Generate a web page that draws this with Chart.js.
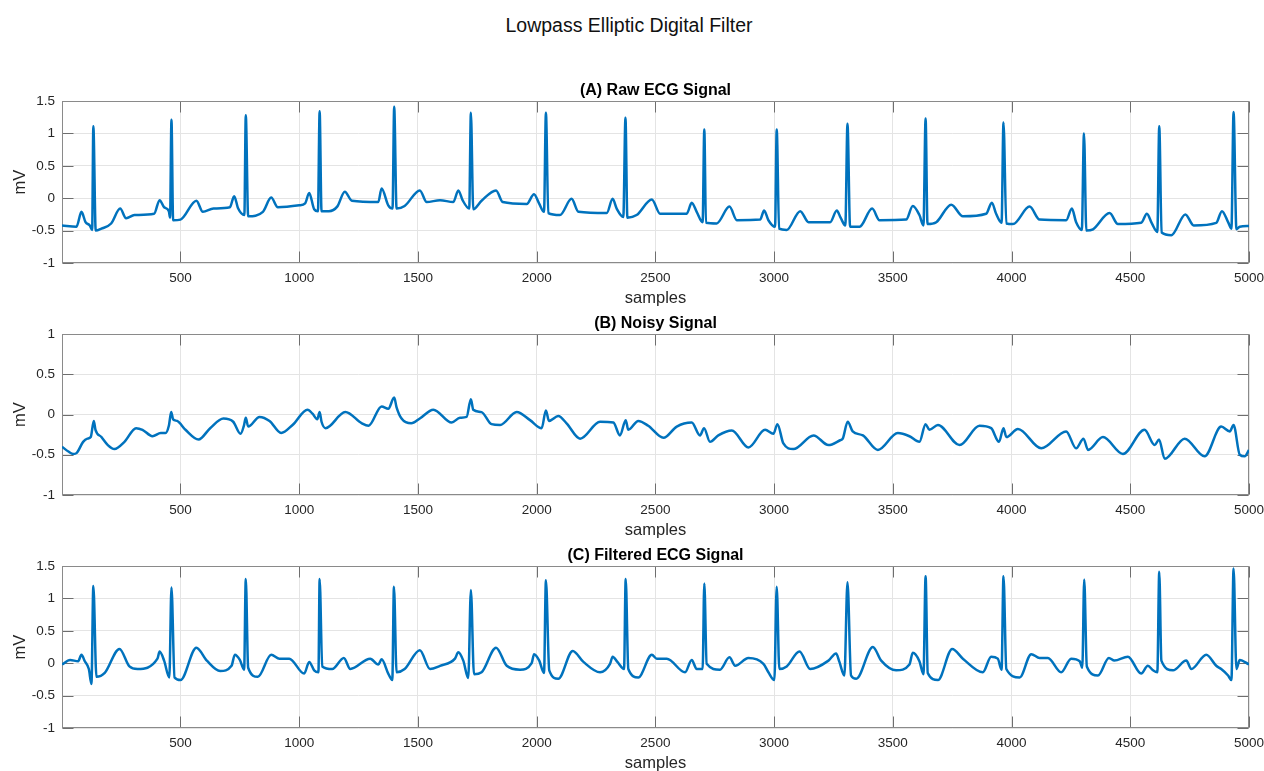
<!DOCTYPE html>
<html>
<head>
<meta charset="utf-8">
<script src="https://cdn.jsdelivr.net/npm/chart.js@4.4.1/dist/chart.umd.min.js"></script>
<style>
  html, body { margin: 0; padding: 0; background: #ffffff; overflow: hidden; width: 1264px; height: 771px; }
  #suptitle { position: absolute; left: 0; top: 12px; width: 1258px; text-align: center;
    font: 19.5px 'Liberation Sans', Arial, sans-serif; color: #111111; line-height: 26px; }
  canvas { position: absolute; left: 0; }
</style>
</head>
<body>
<div id="suptitle">Lowpass Elliptic Digital Filter</div>
<canvas id="chartA" width="1264" height="234" style="top:78px"></canvas>
<canvas id="chartB" width="1264" height="233" style="top:311px"></canvas>
<canvas id="chartC" width="1264" height="234" style="top:543px"></canvas>
<script>
// ---------- data ----------
const xTicks = [500, 1000, 1500, 2000, 2500, 3000, 3500, 4000, 4500, 5000];
const yTicksAC = [-1, -0.5, 0, 0.5, 1, 1.5];
const yTicksB = [-1, -0.5, 0, 0.5, 1];

const rawSamples = [1,62,83,100,118,128,133,143,167,208,246,271,306,389,412,431,451,456,462,469,500,567,594,639,708,726,743,769,775,785,847,882,910,1000,1025,1042,1063,1079,1086,1094,1125,1160,1192,1222,1333,1347,1375,1393,1400,1410,1444,1508,1537,1593,1649,1670,1688,1716,1723,1733,1768,1829,1857,1958,1989,2010,2031,2039,2049,2098,2147,2176,2295,2320,2337,2365,2374,2382,2421,2485,2520,2632,2653,2674,2699,2706,2713,2758,2812,2843,2941,2958,2976,3004,3011,3021,3053,3110,3145,3236,3264,3280,3300,3309,3320,3360,3413,3444,3556,3584,3612,3629,3638,3646,3683,3746,3795,3893,3917,3935,3958,3966,3978,4006,4076,4118,4230,4254,4272,4296,4305,4315,4343,4413,4448,4546,4570,4591,4614,4622,4632,4673,4732,4767,4862,4886,4912,4926,4935,4947,4961,5000];
const rawMv = [-0.42,-0.44,-0.21,-0.37,-0.42,-0.49,1.11,-0.5,-0.47,-0.39,-0.16,-0.31,-0.26,-0.24,-0.03,-0.14,-0.2,-0.3,1.21,-0.34,-0.33,-0.04,-0.21,-0.16,-0.14,0.03,-0.16,-0.26,1.28,-0.28,-0.21,0.01,-0.14,-0.11,-0.08,0.08,-0.17,-0.2,1.34,-0.2,-0.2,-0.13,0.1,-0.04,-0.06,0.15,-0.11,-0.16,1.41,-0.16,-0.12,0.12,-0.06,-0.03,-0.06,0.12,-0.03,-0.16,1.32,-0.17,-0.04,0.12,-0.06,-0.09,0.06,-0.08,-0.21,1.32,-0.23,-0.26,-0.01,-0.21,-0.23,-0.01,-0.16,-0.29,1.24,-0.3,-0.26,-0.02,-0.24,-0.24,-0.07,-0.21,-0.37,1.06,-0.38,-0.39,-0.13,-0.34,-0.33,-0.19,-0.34,-0.44,1.06,-0.47,-0.49,-0.2,-0.37,-0.37,-0.19,-0.3,-0.42,1.15,-0.44,-0.44,-0.16,-0.34,-0.33,-0.12,-0.26,-0.42,1.23,-0.4,-0.37,-0.1,-0.28,-0.24,-0.07,-0.24,-0.38,1.17,-0.39,-0.4,-0.13,-0.33,-0.34,-0.16,-0.37,-0.49,1.0,-0.5,-0.48,-0.23,-0.4,-0.38,-0.24,-0.39,-0.52,1.11,-0.53,-0.57,-0.25,-0.42,-0.38,-0.2,-0.37,-0.47,1.33,-0.48,-0.44,-0.43];

const noisySamples = [1,28,49,62,90,108,122,135,142,167,194,222,264,313,340,382,417,437,451,461,469,486,521,576,625,681,722,753,767,775,785,833,875,924,972,1035,1056,1076,1086,1094,1111,1194,1264,1292,1347,1375,1400,1410,1431,1472,1508,1565,1642,1677,1705,1723,1733,1768,1810,1846,1916,1972,2021,2039,2052,2091,2126,2183,2267,2323,2351,2375,2386,2428,2470,2534,2590,2653,2688,2705,2730,2765,2822,2892,2962,2997,3014,3039,3081,3166,3229,3278,3289,3310,3331,3374,3437,3521,3570,3612,3638,3654,3690,3781,3865,3914,3947,3966,3978,4027,4125,4230,4272,4303,4322,4385,4469,4560,4603,4621,4645,4729,4813,4883,4919,4935,4961,4982,5000];
const noisyMv = [-0.40,-0.46,-0.49,-0.48,-0.34,-0.3,-0.28,-0.08,-0.19,-0.28,-0.38,-0.43,-0.34,-0.17,-0.19,-0.27,-0.23,-0.23,-0.14,0.03,-0.06,-0.08,-0.19,-0.31,-0.17,-0.05,-0.09,-0.24,-0.14,-0.04,-0.15,-0.03,-0.08,-0.23,-0.13,0.06,0.01,-0.06,0.03,-0.09,-0.17,0.03,-0.11,-0.14,0.1,0.07,0.21,0.09,-0.05,-0.11,-0.05,0.06,-0.1,-0.04,-0.03,0.19,0.06,0.03,-0.12,-0.13,0.03,-0.07,-0.17,0.05,-0.08,-0.02,-0.11,-0.3,-0.09,-0.1,-0.26,-0.07,-0.19,-0.08,-0.14,-0.29,-0.15,-0.1,-0.26,-0.17,-0.34,-0.26,-0.2,-0.41,-0.19,-0.24,-0.12,-0.36,-0.43,-0.26,-0.38,-0.32,-0.3,-0.09,-0.21,-0.26,-0.44,-0.23,-0.27,-0.34,-0.12,-0.19,-0.13,-0.38,-0.14,-0.17,-0.34,-0.17,-0.28,-0.18,-0.42,-0.21,-0.42,-0.3,-0.44,-0.28,-0.49,-0.19,-0.38,-0.31,-0.55,-0.3,-0.52,-0.15,-0.21,-0.13,-0.5,-0.52,-0.44];

const filteredSamples = [1,35,69,83,97,114,125,133,146,181,243,285,319,403,412,431,453,462,475,500,567,611,667,715,729,750,768,775,785,826,882,917,958,1021,1042,1063,1081,1086,1097,1139,1188,1215,1299,1333,1347,1375,1392,1399,1410,1444,1508,1551,1593,1656,1670,1691,1712,1723,1736,1768,1829,1874,1930,1979,1989,2011,2031,2039,2053,2091,2152,2197,2267,2309,2320,2340,2368,2375,2386,2428,2485,2506,2548,2625,2653,2674,2699,2706,2716,2772,2812,2836,2892,2955,2976,3001,3011,3022,3053,3107,3152,3229,3261,3275,3296,3309,3324,3346,3416,3451,3514,3570,3584,3612,3629,3638,3647,3690,3750,3795,3879,3914,3942,3958,3966,3978,4034,4083,4118,4153,4209,4251,4287,4298,4306,4317,4364,4410,4433,4490,4546,4574,4596,4614,4622,4631,4680,4736,4757,4820,4862,4883,4912,4926,4935,4947,4961,5000];
const filteredMv = [-0.02,0.05,0.03,0.13,0.03,-0.09,-0.32,1.19,-0.21,-0.15,0.22,-0.05,-0.09,0.07,0.18,0.04,-0.22,1.17,-0.22,-0.26,0.24,0.04,-0.12,-0.04,0.13,0.05,-0.1,1.3,-0.07,-0.21,0.13,0.07,0.07,-0.16,0.02,-0.11,-0.14,1.3,-0.05,-0.09,0.08,-0.09,0.07,-0.02,0.06,-0.16,-0.26,1.18,-0.14,-0.09,0.2,-0.09,-0.04,0.07,0.17,0.04,-0.23,1.13,-0.17,-0.14,0.24,-0.04,-0.1,0,0.14,0.04,-0.15,1.28,-0.11,-0.24,0.19,0.02,-0.14,-0.01,0.1,0.02,-0.09,1.3,-0.09,-0.22,0.13,0.07,0.07,-0.14,0.05,-0.09,-0.09,1.23,-0.01,-0.1,0.09,-0.04,0.08,-0.01,-0.14,-0.26,1.18,-0.09,-0.05,0.18,-0.09,0.04,0.15,0.02,-0.19,1.25,-0.19,-0.24,0.25,0.04,-0.11,-0.02,0.16,0.03,-0.17,1.34,-0.15,-0.26,0.22,0.07,-0.14,0.1,0.07,-0.1,1.34,-0.09,-0.22,0.14,0.08,0.08,-0.14,0.07,0.03,-0.07,1.29,-0.05,-0.19,0.08,0.04,0.1,-0.16,-0.04,-0.11,-0.14,1.41,0.04,-0.11,0.04,-0.09,0.13,-0.04,-0.09,-0.19,-0.26,1.46,-0.09,0.05,-0.02];

// ---------- styling / helpers ----------
Chart.defaults.font.family = "'Liberation Sans', Arial, Helvetica, sans-serif";
Chart.defaults.color = '#262626';

const framePlugin = {
  id: 'matlabFrame',
  beforeDatasetsDraw(chart) {
    const { ctx, chartArea: a, scales: { x, y } } = chart;
    const L = Math.round(a.left) + 0.5, R = Math.round(a.right) - 0.5;
    const T = Math.round(a.top) + 0.5, B = Math.round(a.bottom) - 0.5;
    const TL = 11;
    ctx.save();
    ctx.lineWidth = 1;
    ctx.strokeStyle = '#6e6e6e';
    ctx.beginPath();
    x.ticks.forEach(t => {
      const px = Math.round(x.getPixelForValue(t.value)) + 0.5;
      ctx.moveTo(px, T); ctx.lineTo(px, T + TL);
      ctx.moveTo(px, B); ctx.lineTo(px, B - TL);
    });
    y.ticks.forEach(t => {
      const py = Math.round(y.getPixelForValue(t.value)) + 0.5;
      ctx.moveTo(L, py); ctx.lineTo(L + TL, py);
      ctx.moveTo(R, py); ctx.lineTo(R - TL, py);
    });
    ctx.stroke();
    ctx.strokeStyle = '#8a8a8a';
    ctx.strokeRect(L, T, R - L, B - T);
    ctx.restore();
  }
};

function makeChart(id, title, samples, values, yMin, yMax, yTicks) {
  const pts = samples.map((s, i) => ({ x: s, y: values[i] }));
  return new Chart(document.getElementById(id), {
    type: 'line',
    data: { datasets: [{
      data: pts,
      borderColor: '#0072BD',
      borderWidth: 2.5,
      pointRadius: 0,
      cubicInterpolationMode: 'monotone',
      fill: false
    }] },
    options: {
      responsive: false,
      animation: false,
      events: [],
      layout: { padding: { left: 0, right: 15, top: 0, bottom: 0 } },
      plugins: {
        legend: { display: false },
        tooltip: { enabled: false },
        title: {
          display: true, text: title, fullSize: false, color: '#000000',
          font: { size: 16, weight: 'bold' },
          padding: { top: 3.4, bottom: 0.4 }
        }
      },
      scales: {
        x: {
          type: 'linear', min: 1, max: 5000,
          afterBuildTicks: s => { s.ticks = xTicks.map(v => ({ value: v })); },
          afterFit: s => { s.height = 49; s.paddingLeft = 0; s.paddingRight = 0; },
          grid: { color: '#e4e4e4', lineWidth: 1, drawTicks: false },
          border: { display: false },
          ticks: { padding: 7, maxRotation: 0, autoSkip: false, font: { size: 13.5 }, color: '#262626',
                   callback: v => String(v) },
          title: { display: true, text: 'samples', color: '#262626', font: { size: 16.5 },
                   padding: { top: 0, bottom: 4 } }
        },
        y: {
          type: 'linear', min: yMin, max: yMax,
          afterBuildTicks: s => { s.ticks = yTicks.map(v => ({ value: v })); },
          afterFit: s => { s.width = 62; s.paddingTop = 0; s.paddingBottom = 0; },
          grid: { color: '#e4e4e4', lineWidth: 1, drawTicks: false },
          border: { display: false },
          ticks: { padding: 7, font: { size: 13.5 }, color: '#262626', callback: v => String(v) },
          title: { display: true, text: 'mV', color: '#262626', font: { size: 16.5 },
                   padding: { top: 11, bottom: 0 } }
        }
      }
    },
    plugins: [framePlugin]
  });
}

makeChart('chartA', '(A) Raw ECG Signal', rawSamples, rawMv, -1, 1.5, yTicksAC);
makeChart('chartB', '(B) Noisy Signal', noisySamples, noisyMv, -1, 1, yTicksB);
makeChart('chartC', '(C) Filtered ECG Signal', filteredSamples, filteredMv, -1, 1.5, yTicksAC);
</script>
</body>
</html>
